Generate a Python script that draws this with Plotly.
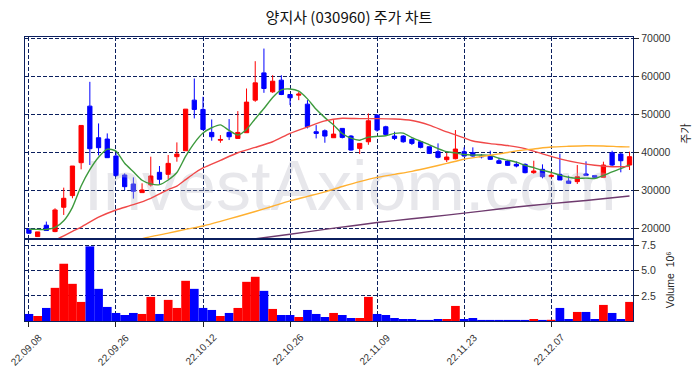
import plotly.graph_objects as go
import pandas as pd

# ---------------- data ----------------
holidays = ["2022-09-09", "2022-09-12", "2022-10-03", "2022-10-10"]
dates = [d for d in pd.bdate_range("2022-09-08", "2022-12-20").strftime("%Y-%m-%d") if d not in holidays]

opens = [19800, 17800, 20790, 19120, 25526, 28600, 37280, 52190, 43860, 43510,
         39040, 34040, 31670, 29390, 31400, 34740, 34210, 38860, 40430, 53770,
         51320, 45260, 43200, 45260, 43680, 45180, 53770, 60960, 55960, 59040,
         55260, 55090, 52720, 45440, 45700, 43860, 46320, 44300, 41050, 42800,
         49820, 46750, 44300, 44300, 43420, 42800, 41490, 40180, 38070, 38330,
         40180, 39910, 39040, 39040, 37800, 37720, 36840, 36840, 34650, 35530,
         33600, 34210, 32460, 32280, 34300, 33860, 33420, 39910, 39560, 36660]
highs = [19900, 19035, 21750, 25260, 30700, 36400, 47100, 58600, 47630, 45000,
         39910, 34470, 33420, 31840, 38860, 36400, 39300, 42630, 51400, 59470,
         54650, 48680, 44560, 48770, 50880, 56840, 64040, 67370, 60350, 60350,
         55260, 55960, 53770, 47190, 46050, 48500, 46320, 44560, 42370, 50260,
         50080, 47020, 45440, 44560, 43680, 42800, 41490, 42370, 39910, 45880,
         41320, 41320, 39560, 40440, 38420, 37980, 37630, 37100, 37800, 36840,
         34910, 39650, 33860, 36660, 37630, 33860, 37540, 40440, 39910, 40180]
lows = [18600, 17800, 19390, 18950, 23500, 27900, 35530, 36670, 39210, 38600,
        33600, 30090, 27810, 29390, 30960, 31670, 32900, 37540, 40430, 48950,
        45800, 43070, 42540, 43250, 43680, 45180, 53330, 55700, 55700, 55090,
        52460, 53770, 46320, 43680, 42540, 43860, 43680, 40440, 39560, 42000,
        45440, 44560, 43250, 42540, 41930, 41050, 39560, 38420, 37460, 38160,
        38860, 38860, 38420, 38000, 36930, 36400, 36050, 34470, 34300, 33160,
        33600, 32720, 31670, 31670, 33950, 33250, 33420, 36400, 34740, 35350]
closes = [18680, 19035, 19390, 24825, 27895, 36400, 47100, 40960, 41230, 38600,
          33860, 30960, 29740, 30090, 33770, 32900, 37100, 39560, 51400, 51320,
          46050, 44120, 43400, 44120, 45260, 53250, 58330, 56840, 58770, 55260,
          54390, 55350, 46750, 45000, 44300, 44820, 43950, 40610, 42370, 48330,
          45880, 44740, 43680, 42800, 42370, 41320, 39740, 38690, 38770, 40880,
          39040, 39040, 38860, 38160, 37100, 36580, 36400, 34650, 35090, 33600,
          33950, 32720, 31840, 33600, 33950, 33420, 36660, 36660, 37800, 38860]
volume_m = [0.70, 0.50, 1.30, 3.30, 5.70, 3.70, 1.90, 7.43, 3.20, 1.40,
            0.80, 0.60, 0.80, 0.70, 2.40, 0.70, 2.10, 1.30, 4.00, 3.20,
            1.30, 1.10, 0.50, 0.80, 1.30, 3.90, 4.40, 3.00, 1.20, 0.60,
            0.60, 0.40, 1.10, 0.70, 0.40, 0.80, 0.60, 0.30, 0.30, 2.40,
            0.70, 0.60, 0.30, 0.20, 0.20, 0.10, 0.10, 0.20, 0.20, 1.50,
            0.20, 0.30, 0.10, 0.10, 0.10, 0.10, 0.10, 0.10, 0.20, 0.10,
            0.12, 1.30, 0.20, 0.90, 0.90, 0.20, 1.60, 0.80, 0.20, 1.90]

# moving averages (index, value)
ma5_head = [19740, 19700, 19650, 20200]
ma20_idx = [3, 4, 5, 6, 8, 10, 12, 14, 16, 17, 18, 19, 20, 22, 24, 26, 28, 30, 32, 34,
            36, 38, 40, 42, 44, 46, 48, 50, 51, 53, 55, 57, 59, 61, 63, 65, 67, 69]
ma20_val = [16900, 18000, 19200, 20300, 22900, 24800, 26200, 27900, 30200, 31100,
            32800, 34500, 35900, 37900, 39900, 41300, 42800, 45000, 46700, 48300,
            49000, 48900, 48900, 48800, 48400, 47200, 45400, 43800, 43000, 42300,
            41800, 41000, 39600, 38300, 37300, 36600, 36200, 36300]
ma60_idx = [12, 14, 16, 18, 20, 22, 24, 26, 28, 30, 32, 34, 36, 38, 40, 42, 44, 46, 48,
            50, 52, 54, 56, 58, 60, 62, 64, 66, 68, 69]
ma60_val = [16700, 17800, 18700, 19700, 20600, 21800, 23100, 24400, 25800, 27200,
            28400, 29600, 31000, 32300, 33400, 34200, 35000, 36000, 37100, 38200,
            38900, 39600, 40400, 40900, 41400, 41600, 41750, 41700, 41500, 41450]
ma120_idx = [25, 30, 34, 37, 40, 44, 48, 52, 56, 60, 64, 69]
ma120_val = [16900, 18400, 19700, 20600, 21500, 22500, 23450, 24500, 25600, 26500, 27300, 28500]

tick_dates = ["2022-09-08", "2022-09-26", "2022-10-12", "2022-10-26", "2022-11-09", "2022-11-23", "2022-12-07"]
tick_labels = ["22.09.08", "22.09.26", "22.10.12", "22.10.26", "22.11.09", "22.11.23", "22.12.07"]
price_ticks = [20000, 30000, 40000, 50000, 60000, 70000]
vol_ticks = [2.5, 5.0, 7.5]
vol_tick_labels = ["2.5", "5.0", "7.5"]

# ---------------- derived ----------------
idx = list(range(len(dates)))
tick_pos = [dates.index(d) for d in tick_dates]
ma5 = pd.Series(closes).rolling(5).mean().tolist()
ma5[:4] = ma5_head
vol_colors = ["#ff0000" if c >= o else "#0000ff" for o, c in zip(opens, closes)]

NAVY = "#0b1f5e"
SANS = "Liberation Sans, Arial, sans-serif"
TICKFONT = dict(family=SANS, size=10.5, color="#333333")

fig = go.Figure()

# watermark (drawn first, beneath the data)
fig.add_trace(go.Scatter(x=[36.9], y=[29300], mode="text", text=["InvestAxiom.com"],
                         textposition="middle center",
                         textfont=dict(family=SANS, size=70, color="rgba(185,185,198,0.35)"),
                         hoverinfo="skip", xaxis="x", yaxis="y"))

fig.add_trace(go.Candlestick(
    x=idx, open=opens, high=highs, low=lows, close=closes,
    increasing=dict(line=dict(color="#ff0000", width=1), fillcolor="#ff0000"),
    decreasing=dict(line=dict(color="#0000ff", width=1), fillcolor="#0000ff"),
    whiskerwidth=0, hoverinfo="skip", xaxis="x", yaxis="y"))

for xs, ys, col in [(idx, ma5, "#3d9a3d"), (ma20_idx, ma20_val, "#f04848"),
                    (ma60_idx, ma60_val, "#ffb030"), (ma120_idx, ma120_val, "#6e3a6e")]:
    fig.add_trace(go.Scatter(x=xs, y=ys, mode="lines", line=dict(color=col, width=1.4, shape="spline", smoothing=0.6),
                             hoverinfo="skip", xaxis="x", yaxis="y"))

fig.add_trace(go.Bar(x=idx, y=volume_m, marker=dict(color=vol_colors, line=dict(width=0)),
                     width=1.0, hoverinfo="skip", xaxis="x2", yaxis="y2"))

common_x = dict(range=[-0.45, 69.4], tickvals=tick_pos, showgrid=True, gridcolor=NAVY, gridwidth=1,
                griddash="4px,2px", showline=True, mirror=True, linecolor=NAVY, linewidth=1.3,
                zeroline=False, automargin=False)
common_y = dict(side="right", showgrid=True, gridcolor=NAVY, gridwidth=1, griddash="4px,2px",
                showline=True, mirror=True, linecolor=NAVY, linewidth=1.3, zeroline=False,
                ticks="outside", ticklen=5, tickcolor="#222222", tickfont=TICKFONT, automargin=False)

# date labels, rotated 45 degrees and centred under their ticks
date_annotations = [dict(text=lab, x=pos, y=-0.102, xref="x2", yref="paper", xshift=-2,
                         textangle=-45, xanchor="center", yanchor="middle", showarrow=False,
                         font=dict(family=SANS, size=10, color="#333333"))
                    for pos, lab in zip(tick_pos, tick_labels)]

fig.update_layout(
    width=698, height=378, margin=dict(l=25, r=65, t=37, b=57, autoexpand=False),
    paper_bgcolor="white", plot_bgcolor="white", showlegend=False,
    title=dict(text="양지사 (030960) 주가 차트", x=0.5, xanchor="center", y=1 - 18 / 378, yanchor="middle",
               font=dict(family="Noto Sans CJK KR", size=15, color="#111111")),
    xaxis=dict(anchor="y", showticklabels=False, ticks="", rangeslider=dict(visible=False), **common_x),
    xaxis2=dict(anchor="y2", matches="x", showticklabels=False, ticks="outside", ticklen=5,
                tickcolor="#222222", **common_x),
    yaxis=dict(domain=[0.289, 1.0], range=[17180, 70420], tickvals=price_ticks,
               ticktext=[str(v) for v in price_ticks], **common_y),
    yaxis2=dict(domain=[0.0, 0.289], range=[0, 8.17], tickvals=vol_ticks, ticktext=vol_tick_labels, **common_y),
    annotations=date_annotations + [
        dict(text="주가", textangle=-90, x=1.084, y=0.66, xref="paper", yref="paper",
             xanchor="center", yanchor="middle",
             showarrow=False, font=dict(family="Noto Sans CJK KR", size=11, color="#222222")),
        dict(text="Volume  10⁶", textangle=-90, x=1.061, y=0.144, xref="paper", yref="paper",
             xanchor="center", yanchor="middle",
             showarrow=False, font=dict(family=SANS, size=10.5, color="#222222")),
    ],
)

fig.write_html("out.html", config={"displayModeBar": False},
               post_script="document.body.style.margin='0px';")
